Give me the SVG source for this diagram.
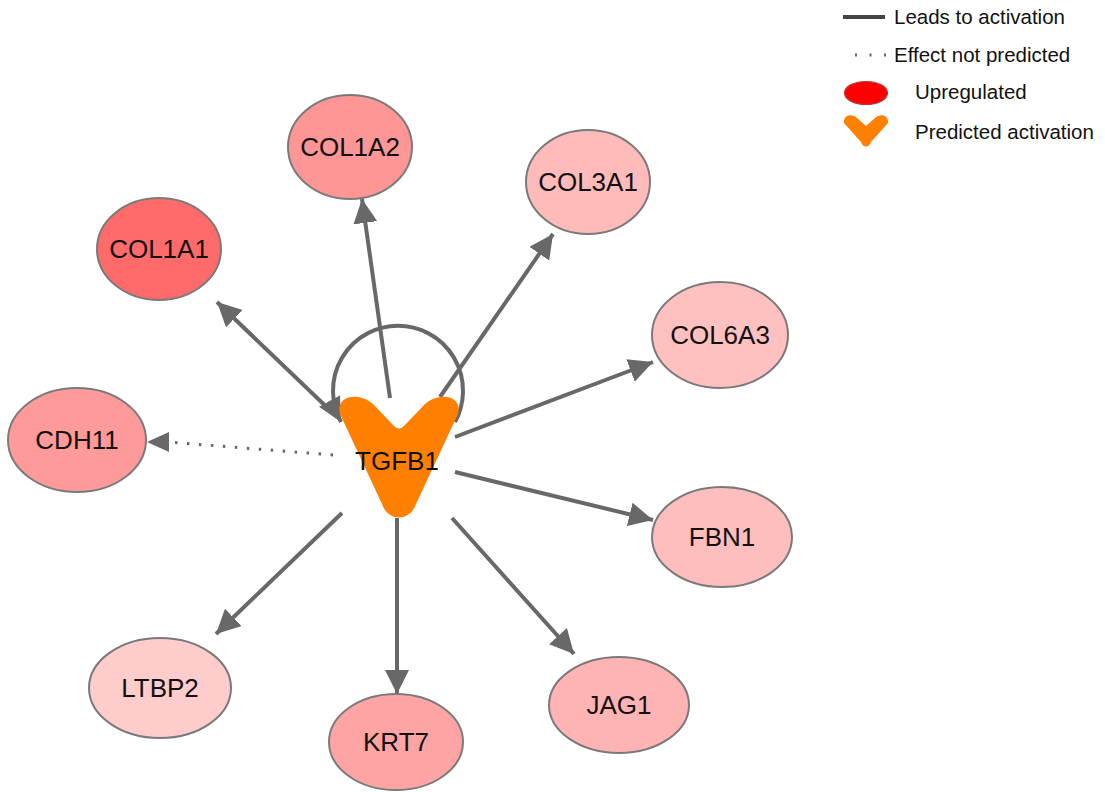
<svg xmlns="http://www.w3.org/2000/svg" width="1105" height="792" viewBox="0 0 1105 792">
<style>
.node{stroke:#7a7a7a;stroke-width:2}
.lbl{font-family:"Liberation Sans",Arial,sans-serif;font-size:26px;fill:#111;text-anchor:middle}
.leg{font-family:"Liberation Sans",Arial,sans-serif;font-size:20.5px;fill:#111}
.edge{stroke:#686868;stroke-width:4;fill:none}
.dot{stroke:#686868;stroke-width:3;fill:none;stroke-dasharray:2.5 9.5}
</style>
<defs>
<marker id="arr" viewBox="0 0 10 10" refX="10" refY="5" markerWidth="6" markerHeight="6" markerUnits="strokeWidth" orient="auto">
<path d="M0,0 L10,5 L0,10 Z" fill="#686868"/>
</marker>
</defs>
<g id="legend">
<line x1="843" y1="17" x2="885" y2="17" stroke="#444" stroke-width="4"/>
<text class="leg" x="894" y="24">Leads to activation</text>
<line x1="855" y1="55" x2="886" y2="55" stroke="#666" stroke-width="3" stroke-dasharray="2 12.5"/>
<text class="leg" x="894" y="62">Effect not predicted</text>
<ellipse cx="866" cy="93" rx="21.5" ry="11.5" fill="#ff0000" stroke="#b33" stroke-width="1.2"/>
<text class="leg" x="915" y="99">Upregulated</text>
<path d="M844,123 C843,115 852,113 857,118 L866,126 L875,118 C880,113 889,115 888,123 L871,142 C869,148 863,148 861,142 Z" fill="#ff8000"/>
<text class="leg" x="915" y="139">Predicted activation</text>
</g>
<g id="connectors">
<line class="edge" x1="336" y1="416" x2="217" y2="302" marker-end="url(#arr)"/>
<line class="edge" x1="390" y1="398" x2="362" y2="199" marker-end="url(#arr)"/>
<line class="edge" x1="440" y1="397" x2="553" y2="234" marker-end="url(#arr)"/>
<line class="edge" x1="455" y1="437" x2="653" y2="362" marker-end="url(#arr)"/>
<line class="edge" x1="455" y1="472" x2="653" y2="520" marker-end="url(#arr)"/>
<line class="edge" x1="452" y1="518" x2="574" y2="654" marker-end="url(#arr)"/>
<line class="edge" x1="397" y1="518" x2="397" y2="694" marker-end="url(#arr)"/>
<line class="edge" x1="342" y1="513" x2="216" y2="634" marker-end="url(#arr)"/>
<path class="edge" d="M455,422 A65,65 0 1 0 341,422" marker-end="url(#arr)"/>
<line class="dot" x1="333" y1="455" x2="168" y2="442"/>
<path d="M147,442 L169,432 L169,452 Z" fill="#686868"/>
</g>
<g id="TGFB1">
<path d="M340,414 C335,396 358,391 373,404 L393,425 Q399,432 405,425 L425,404 C440,391 463,396 458,414 L416,504 C410,522 388,522 382,504 Z" fill="#ff8000"/>
<text class="lbl" x="397" y="470">TGFB1</text>
</g>
<g id="COL1A1"><ellipse class="node" cx="159" cy="249" rx="62" ry="51" fill="#ff6b6b"/><text class="lbl" x="159" y="258">COL1A1</text></g>
<g id="COL1A2"><ellipse class="node" cx="350" cy="147" rx="62" ry="52" fill="#ff9696"/><text class="lbl" x="350" y="156">COL1A2</text></g>
<g id="COL3A1"><ellipse class="node" cx="588" cy="182" rx="62" ry="52" fill="#ffbaba"/><text class="lbl" x="588" y="191">COL3A1</text></g>
<g id="COL6A3"><ellipse class="node" cx="720" cy="335" rx="68" ry="53" fill="#ffc0c0"/><text class="lbl" x="720" y="344">COL6A3</text></g>
<g id="CDH11"><ellipse class="node" cx="77" cy="440" rx="69" ry="52" fill="#ff9a9a"/><text class="lbl" x="77" y="449">CDH11</text></g>
<g id="FBN1"><ellipse class="node" cx="722" cy="537" rx="70" ry="50" fill="#ffbebe"/><text class="lbl" x="722" y="546">FBN1</text></g>
<g id="JAG1"><ellipse class="node" cx="619" cy="705" rx="70" ry="48" fill="#ffb4b4"/><text class="lbl" x="619" y="714">JAG1</text></g>
<g id="KRT7"><ellipse class="node" cx="396" cy="742" rx="67" ry="48" fill="#ffa4a4"/><text class="lbl" x="396" y="751">KRT7</text></g>
<g id="LTBP2"><ellipse class="node" cx="160" cy="688" rx="71" ry="50" fill="#ffcccc"/><text class="lbl" x="160" y="697">LTBP2</text></g>
</svg>
